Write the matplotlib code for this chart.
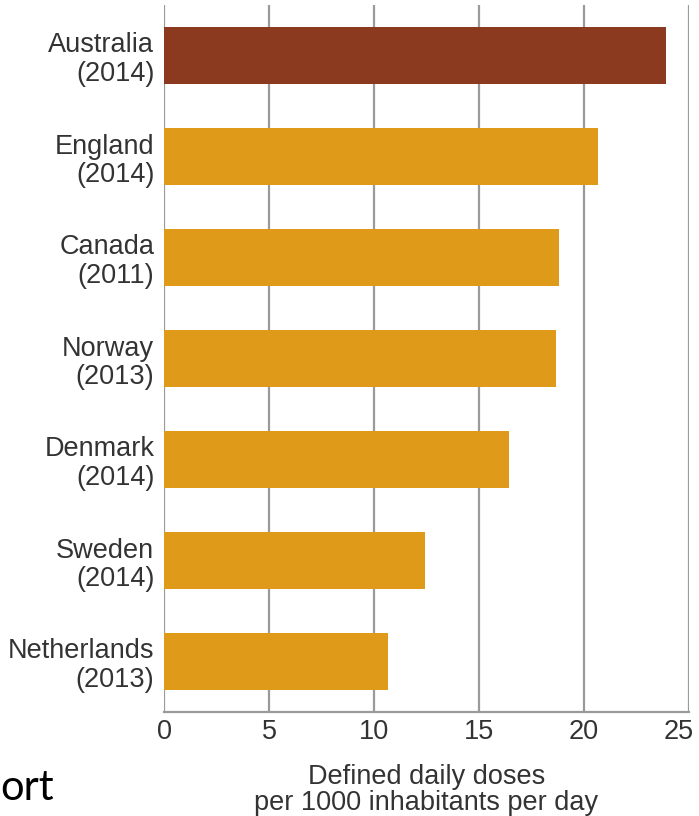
import matplotlib.pyplot as plt
from matplotlib.transforms import ScaledTranslation
import numpy as np

# datos
paises = ["Australia\n(2014)", "England\n(2014)", "Canada\n(2011)", "Norway\n(2013)",
          "Denmark\n(2014)", "Sweden\n(2014)", "Netherlands\n(2013)"]
valores = [23.9, 20.65, 18.8, 18.65, 16.45, 12.45, 10.65]
colores = ["#8B3A1F"] + ["#E09A1A"] * 6
ticks_x = [0, 5, 10, 15, 20, 25]

plt.rcParams["font.family"] = ["Liberation Sans", "DejaVu Sans"]

fig = plt.figure(figsize=(6.99, 8.16), dpi=100)
ax = fig.add_axes([164 / 699, 104 / 816, 525 / 699, 707 / 816])

y = np.arange(len(paises))
ax.barh(y, valores, height=0.565, color=colores, edgecolor="none")

ax.set_xlim(0, 25)
ax.set_ylim(len(paises) - 0.5, -0.5)
ax.set_yticks(y)
ax.set_yticklabels(paises, linespacing=1.12)
ax.set_xticks(ticks_x)

ax.set_axisbelow(True)
ax.grid(axis="x", color="#9A9A9A", linewidth=1.6)
for s in ["top", "right", "left"]:
    ax.spines[s].set_visible(False)
ax.spines["bottom"].set_color("#9A9A9A")
ax.spines["bottom"].set_linewidth(1.6)

ax.tick_params(axis="both", length=0, labelsize=19.5, colors="#333333")
ax.tick_params(axis="x", pad=5)
ax.tick_params(axis="y", pad=7)

# el 25 queda un poco a la izquierda para que no se corte
ultima = ax.get_xticklabels()[-1]
ultima.set_transform(ultima.get_transform() + ScaledTranslation(-10 / 100, 0, fig.dpi_scale_trans))

ax.set_xlabel("Defined daily doses\nper 1000 inhabitants per day",
              fontsize=19.5, color="#333333", labelpad=14, linespacing=1.0)

fig.text(0.0, 0.0196, "ort", fontsize=30, family=["Lato", "DejaVu Sans"],
         color="black", ha="left", va="baseline")

fig.savefig("out.png", dpi=100)
